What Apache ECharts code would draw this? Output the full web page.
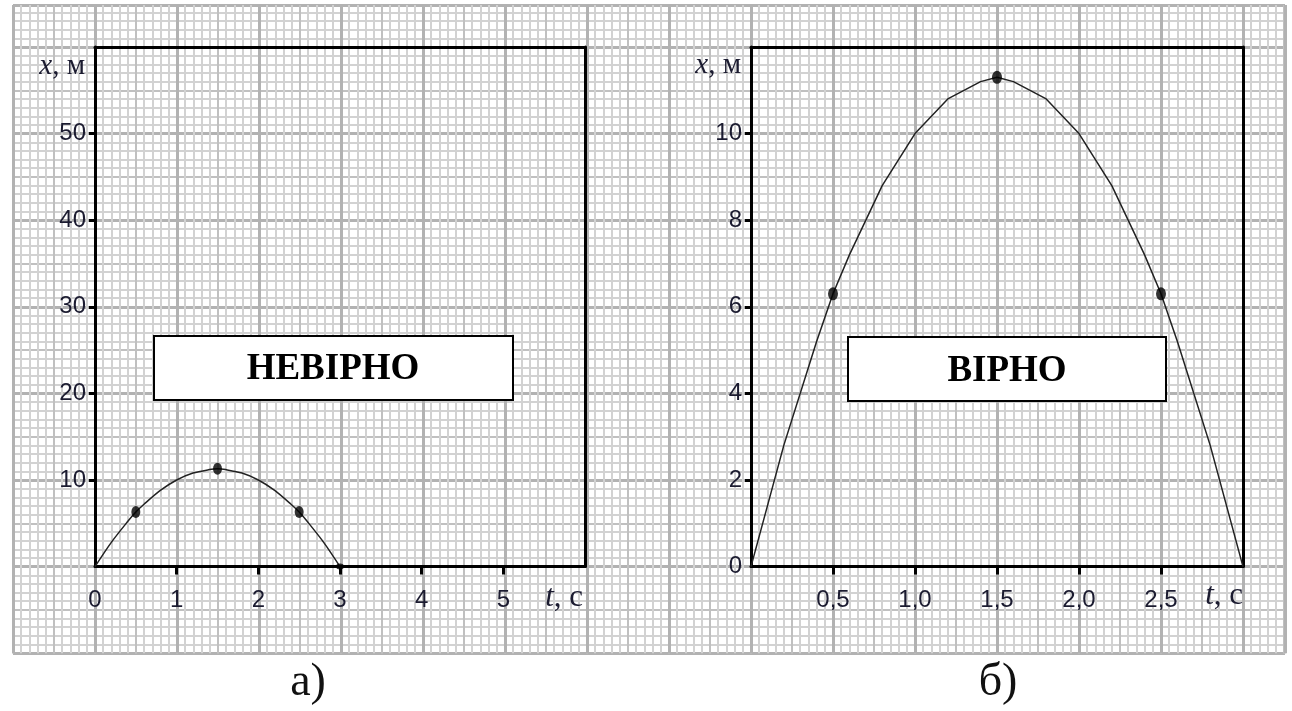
<!DOCTYPE html>
<html>
<head>
<meta charset="utf-8">
<script src="https://cdn.jsdelivr.net/npm/echarts@6/dist/echarts.min.js"></script>
<style>html,body{margin:0;padding:0;background:#fff}#c{width:1292px;height:711px}</style>
</head>
<body>
<div id="c"></div>
<script>
// curve vertices (t, s)
const times  = [0, 0.2, 0.4, 0.5, 0.6, 0.8, 1.0, 1.2, 1.4, 1.5, 1.6, 1.8, 2.0, 2.2, 2.4, 2.5, 2.6, 2.8, 3.0];
const coords = [0, 2.8, 5.2, 6.3, 7.2, 8.8, 10.0, 10.8, 11.2, 11.3, 11.2, 10.8, 10.0, 8.8, 7.2, 6.3, 5.2, 2.8, 0];
// marked points
const dotTimes  = [0.5, 1.5, 2.5];
const dotCoords = [6.3, 11.3, 6.3];
const endTimes  = [3];
const endCoords = [0];
// tick labels
const leftXTicks  = [0, 1, 2, 3, 4, 5];
const leftXMarks  = [1, 2, 3, 4, 5];
const leftYTicks  = [10, 20, 30, 40, 50];
const rightXTicks = [0.5, 1.0, 1.5, 2.0, 2.5];
const rightYLabels = [0, 2, 4, 6, 8, 10];
const rightYMarks  = [2, 4, 6, 8, 10];

const pair = (a, b) => a.map((v, i) => [v, b[i]]);
const curve = pair(times, coords);
const dots = pair(dotTimes, dotCoords);
const ends = pair(endTimes, endCoords);

const labelFont = { fontFamily: 'Liberation Sans, Arial, sans-serif', fontSize: 24, color: '#1b1b30' };
const black3 = { color: '#000', width: 3 };

function bgAxis(interval, color, width, max) {
  return {
    type: 'value', gridIndex: 0, min: 0, max: max, interval: interval, silent: true,
    axisLine: { show: false }, axisTick: { show: false }, axisLabel: { show: false },
    splitLine: { show: true, lineStyle: { color: color, width: width } }
  };
}
function frameAxis(grid, position, min, max) {
  return {
    type: 'value', gridIndex: grid, position: position, min: min, max: max, silent: true,
    axisLine: { show: true, onZero: false, lineStyle: black3 },
    axisTick: { show: false }, axisLabel: { show: false }, splitLine: { show: false }
  };
}
const bgXMax = 155.12, bgYMax = 74.85;

const chart = echarts.init(document.getElementById('c'), null, { renderer: 'canvas' });
chart.setOption({
  animation: false,
  backgroundColor: '#fff',
  grid: [
    { left: 13, right: 7, top: 5, bottom: 57.8, show: false },
    { left: 95, top: 47, width: 490, bottom: 144.4, show: false },
    { left: 751, top: 47, width: 492, bottom: 144.4, show: false }
  ],
  xAxis: [
    bgAxis(1, '#d2d2d2', 2, bgXMax),
    bgAxis(5, '#c0c0c0', 2, bgXMax),
    bgAxis(10, '#b2b2b2', 3, bgXMax),
    {
      type: 'value', gridIndex: 1, position: 'bottom', min: 0, max: 6, interval: 1,
      axisLine: { show: true, onZero: false, lineStyle: black3 },
      axisTick: { show: true, customValues: leftXMarks, length: 8, lineStyle: black3 },
      axisLabel: Object.assign({ customValues: leftXTicks, margin: 22 }, labelFont),
      splitLine: { show: false }
    },
    {
      type: 'value', gridIndex: 2, position: 'bottom', min: 0, max: 3, interval: 0.5,
      axisLine: { show: true, onZero: false, lineStyle: black3 },
      axisTick: { show: true, customValues: rightXTicks, length: 8, lineStyle: black3 },
      axisLabel: Object.assign({ customValues: rightXTicks, margin: 22, formatter: v => v.toFixed(1).replace('.', ',') }, labelFont),
      splitLine: { show: false }
    },
    frameAxis(1, 'top', 0, 6),
    frameAxis(2, 'top', 0, 3)
  ],
  yAxis: [
    bgAxis(1, '#d2d2d2', 2, bgYMax),
    bgAxis(5, '#c0c0c0', 2, bgYMax),
    bgAxis(10, '#b2b2b2', 3, bgYMax),
    {
      type: 'value', gridIndex: 1, position: 'left', min: 0, max: 60, interval: 10,
      axisLine: { show: true, onZero: false, lineStyle: black3 },
      axisTick: { show: true, customValues: leftYTicks, length: 6, lineStyle: black3 },
      axisLabel: Object.assign({ customValues: leftYTicks, margin: 9 }, labelFont),
      splitLine: { show: false }
    },
    {
      type: 'value', gridIndex: 2, position: 'left', min: 0, max: 12, interval: 2,
      axisLine: { show: true, onZero: false, lineStyle: black3 },
      axisTick: { show: true, customValues: rightYMarks, length: 6, lineStyle: black3 },
      axisLabel: Object.assign({ customValues: rightYLabels, margin: 9 }, labelFont),
      splitLine: { show: false }
    },
    frameAxis(1, 'right', 0, 60),
    frameAxis(2, 'right', 0, 12)
  ],
  series: [
    { type: 'line', xAxisIndex: 3, yAxisIndex: 3, data: curve, smooth: 0.3, showSymbol: false,
      lineStyle: { color: '#222', width: 1.5 }, silent: true, z: 5 },
    { type: 'scatter', xAxisIndex: 3, yAxisIndex: 3, data: dots, symbol: 'circle', symbolSize: [9, 12],
      itemStyle: { color: '#000' }, silent: true, z: 6 },
    { type: 'scatter', xAxisIndex: 3, yAxisIndex: 3, data: ends, symbol: 'circle', symbolSize: [8, 6],
      itemStyle: { color: '#000' }, silent: true, z: 6 },
    { type: 'line', xAxisIndex: 4, yAxisIndex: 4, data: curve, showSymbol: false,
      lineStyle: { color: '#222', width: 1.5 }, silent: true, z: 5 },
    { type: 'scatter', xAxisIndex: 4, yAxisIndex: 4, data: dots, symbol: 'circle', symbolSize: [10, 13],
      itemStyle: { color: '#000' }, silent: true, z: 6 }
  ],
  graphic: [
    { type: 'rect', shape: { x: 154, y: 336, width: 359, height: 64 }, style: { fill: '#fff', stroke: '#000', lineWidth: 2 }, z: 100 },
    { type: 'text', x: 333, y: 369, style: { text: 'НЕВІРНО', font: 'bold 37px "Liberation Serif", "Times New Roman", serif', fill: '#000', align: 'center', verticalAlign: 'middle' }, z: 101 },
    { type: 'rect', shape: { x: 848, y: 337, width: 318, height: 64 }, style: { fill: '#fff', stroke: '#000', lineWidth: 2 }, z: 100 },
    { type: 'text', x: 1007, y: 371, style: { text: 'ВІРНО', font: 'bold 37px "Liberation Serif", "Times New Roman", serif', fill: '#000', align: 'center', verticalAlign: 'middle' }, z: 101 },
    { type: 'text', x: 85, y: 66, style: { text: '{i|x}{n|, м}', align: 'right', verticalAlign: 'middle',
        rich: { i: { font: 'italic 29px "Liberation Serif", serif', fill: '#1b1b30' }, n: { font: '29px "Liberation Serif", serif', fill: '#1b1b30' } } }, z: 101 },
    { type: 'text', x: 741, y: 65, style: { text: '{i|x}{n|, м}', align: 'right', verticalAlign: 'middle',
        rich: { i: { font: 'italic 29px "Liberation Serif", serif', fill: '#1b1b30' }, n: { font: '29px "Liberation Serif", serif', fill: '#1b1b30' } } }, z: 101 },
    { type: 'text', x: 583, y: 598, style: { text: '{i|t}{n|, c}', align: 'right', verticalAlign: 'middle',
        rich: { i: { font: 'italic 31px "Liberation Serif", serif', fill: '#1b1b30' }, n: { font: '31px "Liberation Serif", serif', fill: '#1b1b30' } } }, z: 101 },
    { type: 'text', x: 1243, y: 596, style: { text: '{i|t}{n|, c}', align: 'right', verticalAlign: 'middle',
        rich: { i: { font: 'italic 31px "Liberation Serif", serif', fill: '#1b1b30' }, n: { font: '31px "Liberation Serif", serif', fill: '#1b1b30' } } }, z: 101 },
    { type: 'text', x: 308, y: 683, style: { text: 'а)', font: '46px "Liberation Serif", serif', fill: '#111', align: 'center', verticalAlign: 'middle' }, z: 101 },
    { type: 'text', x: 998, y: 683, style: { text: 'б)', font: '46px "Liberation Serif", serif', fill: '#111', align: 'center', verticalAlign: 'middle' }, z: 101 }
  ]
});
</script>
</body>
</html>
